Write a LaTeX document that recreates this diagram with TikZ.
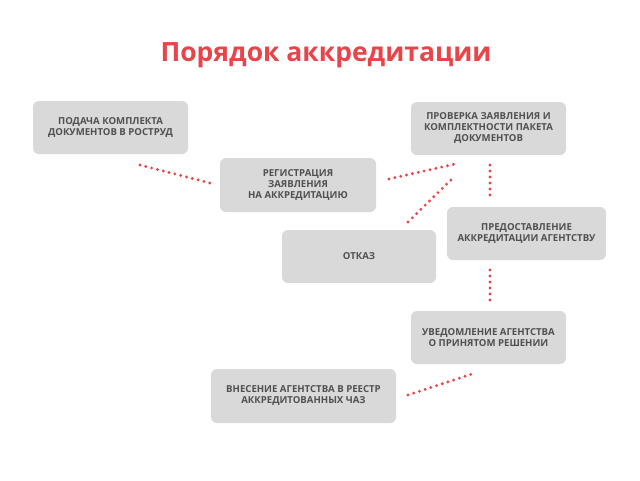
\documentclass[tikz,border=0pt]{standalone}
\usepackage{fontspec}
\setmainfont{Open Sans}
\definecolor{boxgray}{HTML}{D9D9D9}
\definecolor{txtgray}{HTML}{505050}
\definecolor{redc}{HTML}{E8454A}
\begin{document}
\begin{tikzpicture}[x=1pt,y=-1pt,
  box/.style={fill=boxgray,rounded corners=6pt,inner sep=0pt,align=center,text=txtgray,font=\bfseries\fontsize{9.6}{11}\selectfont},
  dots/.style={draw=redc,line width=3.2pt,line cap=round,dash pattern=on 0pt off 6pt}]
\useasboundingbox (0,0) rectangle (640,480);
\fill[white] (0,0) rectangle (640,480);
\node[text=redc,font=\bfseries\fontsize{26.5}{30}\selectfont] (title) at (326,55) {Порядок аккредитации};
\node[box,minimum width=155pt,minimum height=53pt] (b1) at (110.5,127.5) {ПОДАЧА КОМПЛЕКТА\\ДОКУМЕНТОВ В РОСТРУД};
\node[box,minimum width=156pt,minimum height=54pt] (b2) at (298,185) {РЕГИСТРАЦИЯ\\ЗАЯВЛЕНИЯ\\НА АККРЕДИТАЦИЮ};
\node[box,minimum width=155pt,minimum height=53pt] (b3) at (488.5,128.5) {ПРОВЕРКА ЗАЯВЛЕНИЯ И\\КОМПЛЕКТНОСТИ ПАКЕТА\\ДОКУМЕНТОВ};
\node[box,minimum width=159pt,minimum height=53pt] (b4) at (526.5,233.5) {ПРЕДОСТАВЛЕНИЕ\\АККРЕДИТАЦИИ АГЕНТСТВУ};
\node[box,minimum width=154pt,minimum height=53pt] (b5) at (359,256.5) {ОТКАЗ};
\node[box,minimum width=155pt,minimum height=53pt] (b6) at (488.5,337.5) {УВЕДОМЛЕНИЕ АГЕНТСТВА\\О ПРИНЯТОМ РЕШЕНИИ};
\node[box,minimum width=185pt,minimum height=54pt] (b7) at (303.5,396) {ВНЕСЕНИЕ АГЕНТСТВА В РЕЕСТР\\АККРЕДИТОВАННЫХ ЧАЗ};
\coordinate (p1) at (140,165); \coordinate (q1) at (210,183);
\coordinate (p2) at (389,179); \coordinate (q2) at (455,164);
\coordinate (p3) at (408,222); \coordinate (q3) at (455,176);
\coordinate (p4) at (490,165); \coordinate (q4) at (490,200);
\coordinate (p5) at (490,270); \coordinate (q5) at (490,305);
\coordinate (p6) at (408,395); \coordinate (q6) at (475,373);
\foreach \i in {1,...,6} \draw[dots] (p\i) -- (q\i);
\end{tikzpicture}
\end{document}
